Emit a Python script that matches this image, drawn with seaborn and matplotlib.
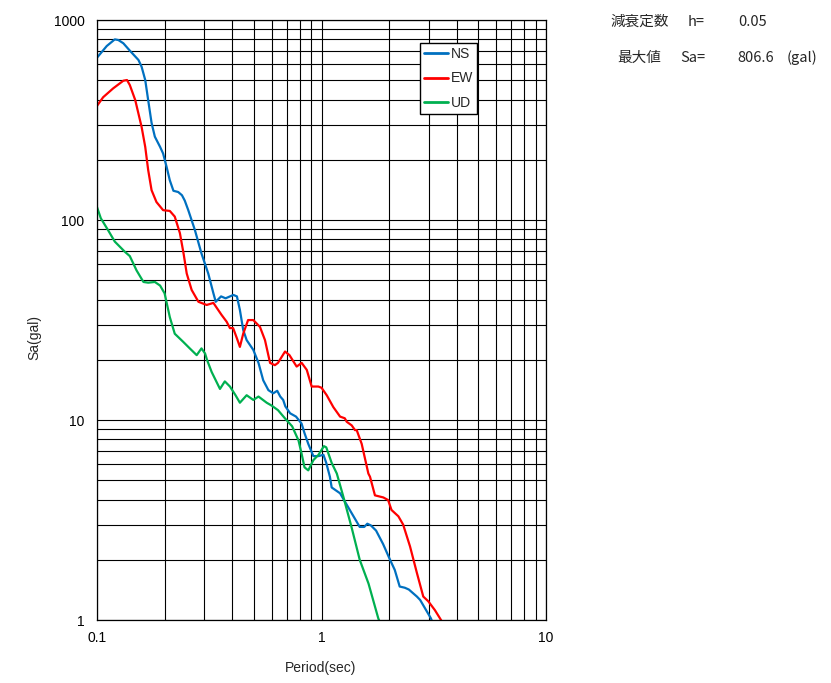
import numpy as np
import pandas as pd
import matplotlib
matplotlib.use('Agg')
import matplotlib.pyplot as plt
from matplotlib.ticker import LogLocator, NullFormatter
import seaborn as sns

# response spectrum values (period in sec, Sa in gal)
ns_period = [0.100, 0.1105, 0.120, 0.1245, 0.131, 0.140, 0.153, 0.158, 0.164, 0.169,
             0.175, 0.181, 0.191, 0.197, 0.204, 0.211, 0.219, 0.230, 0.239, 0.246,
             0.255, 0.273, 0.292, 0.313, 0.330, 0.338, 0.357, 0.374, 0.405, 0.420,
             0.433, 0.448, 0.464, 0.497, 0.524, 0.55, 0.58, 0.61, 0.635, 0.655,
             0.675, 0.69, 0.725, 0.77, 0.815, 0.84, 0.873, 0.92, 0.97, 1.02,
             1.05, 1.09, 1.11, 1.21, 1.29, 1.48, 1.55, 1.60, 1.66, 1.75,
             1.88, 2.02, 2.12, 2.23, 2.35, 2.45, 2.66, 2.75, 3.07, 3.15]
ns_sa = [648, 741, 800, 794, 765, 703, 631, 584, 501, 398,
         306, 261, 232, 215, 185, 158, 140, 138, 133, 125,
         112, 89, 68, 54, 43, 39, 41.5, 40.6, 42.2, 41.5,
         35.5, 28.2, 25.1, 22.4, 19.3, 15.8, 14.1, 13.6, 14.0, 13.1,
         12.6, 11.7, 10.8, 10.4, 9.6, 8.6, 7.6, 6.6, 6.6, 6.7,
         6.1, 5.2, 4.6, 4.3, 3.8, 2.92, 2.92, 3.03, 2.97, 2.8,
         2.4, 2.0, 1.78, 1.47, 1.45, 1.42, 1.31, 1.26, 1.02, 0.95]

ew_period = [0.100, 0.1065, 0.118, 0.131, 0.136, 0.140, 0.148, 0.158, 0.164, 0.169,
             0.175, 0.184, 0.197, 0.211, 0.222, 0.234, 0.243, 0.251, 0.264, 0.283,
             0.308, 0.330, 0.338, 0.359, 0.378, 0.391, 0.404, 0.420, 0.433, 0.448,
             0.471, 0.497, 0.532, 0.56, 0.59, 0.62, 0.64, 0.688, 0.72, 0.775,
             0.816, 0.86, 0.904, 0.968, 1.0, 1.055, 1.129, 1.21, 1.27, 1.295,
             1.363, 1.41, 1.435, 1.51, 1.617, 1.645, 1.73, 1.885, 1.98, 2.05,
             2.20, 2.31, 2.48, 2.66, 2.84, 2.99, 3.20, 3.37, 3.50]
ew_sa = [372, 411, 455, 497, 501, 473, 398, 292, 232, 178,
         141, 123, 112, 111, 104, 86, 68, 54, 44.7, 39,
         37.6, 38.5, 37, 33.5, 31, 28.8, 28.8, 25.6, 23.2, 27,
         31.6, 31.6, 29.2, 25.1, 19.3, 18.8, 19.3, 22, 21.1, 18.5,
         19.3, 17.8, 14.7, 14.7, 14.5, 13.3, 11.6, 10.4, 10.2, 9.8,
         9.4, 8.9, 8.9, 7.6, 5.4, 5.2, 4.2, 4.1, 3.98, 3.55,
         3.3, 3.0, 2.33, 1.72, 1.31, 1.24, 1.12, 1.02, 0.95]

ud_period = [0.100, 0.104, 0.112, 0.120, 0.133, 0.140, 0.150, 0.161, 0.169, 0.181,
             0.191, 0.200, 0.211, 0.222, 0.242, 0.259, 0.278, 0.292, 0.303, 0.309,
             0.324, 0.353, 0.371, 0.391, 0.414, 0.433, 0.464, 0.497, 0.524, 0.57,
             0.60, 0.64, 0.687, 0.74, 0.79, 0.815, 0.84, 0.873, 0.92, 0.97,
             1.025, 1.05, 1.11, 1.17, 1.25, 1.36, 1.48, 1.62, 1.79, 1.85]
ud_sa = [116, 102, 89, 78, 69.4, 66, 56, 49, 48.6, 49,
         47, 43, 32.7, 27, 24.6, 22.8, 21.1, 22.8, 21.5, 20,
         17.4, 14.3, 15.6, 14.7, 13.3, 12.2, 13.3, 12.6, 13.1, 12.2,
         11.8, 11.2, 10.2, 9.3, 7.9, 6.8, 5.8, 5.6, 6.3, 6.7,
         7.4, 7.3, 6.1, 5.4, 4.15, 2.92, 2.0, 1.52, 1.02, 0.93]

series_names = ['NS', 'EW', 'UD']
series_colors = ['#0070C0', '#FF0000', '#00B050']

df = pd.concat([
    pd.DataFrame({'Period': ns_period, 'Sa': ns_sa, 'comp': 'NS'}),
    pd.DataFrame({'Period': ew_period, 'Sa': ew_sa, 'comp': 'EW'}),
    pd.DataFrame({'Period': ud_period, 'Sa': ud_sa, 'comp': 'UD'}),
])

sns.set_style('white')
plt.rcParams['font.family'] = ['Liberation Sans', 'DejaVu Sans']

fig = plt.figure(figsize=(8.31, 6.83), dpi=100)
ax = fig.add_axes([97 / 831, 1 - 620 / 683, 449 / 831, 600 / 683])

sns.lineplot(data=df, x='Period', y='Sa', hue='comp', hue_order=series_names,
             palette=series_colors, estimator=None, sort=False, linewidth=1.6, ax=ax)

ax.set_xscale('log')
ax.set_yscale('log')
ax.set_xlim(0.1, 10)
ax.set_ylim(1, 1000)

ax.set_xticks([0.1, 1, 10], labels=['0.1', '1', '10'])
ax.set_yticks([1, 10, 100, 1000], labels=['1', '10', '100', '1000'])
for axis in (ax.xaxis, ax.yaxis):
    axis.set_minor_locator(LogLocator(base=10, subs=np.arange(2, 10)))
    axis.set_minor_formatter(NullFormatter())
ax.tick_params(which='both', length=0, labelsize=10, colors='black')
ax.tick_params(axis='x', pad=8)
ax.tick_params(axis='y', pad=9)
ax.grid(True, which='both', color='black', linewidth=0.8)
ax.set_axisbelow(True)
for s in ax.spines.values():
    s.set_color('black')
    s.set_linewidth(0.9)

ax.set_xlabel('Period(sec)', fontsize=10)
ax.set_ylabel('Sa(gal)', fontsize=10)
ax.xaxis.set_label_coords(0.497, -0.068)
ax.yaxis.set_label_coords(-0.125, 0.47)

leg = ax.legend(loc='upper left', bbox_to_anchor=(0.719, 0.962), borderaxespad=0,
                fancybox=False, framealpha=1, edgecolor='black', fontsize=10,
                handlelength=1.75, handletextpad=0.15, labelspacing=0.75, borderpad=0.3)
leg.get_frame().set_linewidth(1)
for line in leg.get_lines():
    line.set_linewidth(2)

jp = ['Noto Sans CJK JP', 'DejaVu Sans']
def put(txt, x, y):
    fig.text(x / 831, 1 - y / 683, txt, family=jp, fontsize=10.5, va='center', ha='left')

put('減衰定数', 610, 22)
put('h=', 688, 22)
put('0.05', 738, 22)
put('最大値', 617, 58)
put('Sa=', 680, 58)
put('806.6', 737, 58)
put('(gal)', 787, 58)

fig.savefig('out.png', dpi=100)
